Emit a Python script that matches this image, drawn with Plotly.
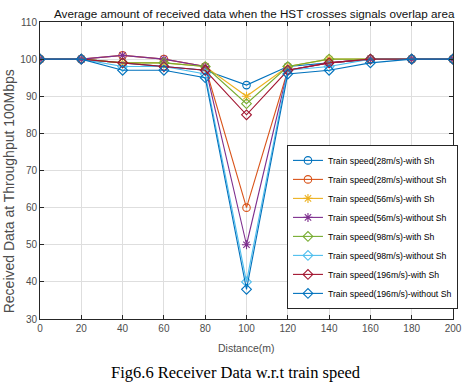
import plotly.graph_objects as go

distance = [0, 20, 40, 60, 80, 100, 120, 140, 160, 180, 200]

s28_with = [100, 100, 99, 98, 97, 93, 98, 99, 100, 100, 100]
s28_without = [100, 100, 101, 100, 98, 60, 97, 99, 100, 100, 100]
s56_with = [100, 100, 99, 99, 98, 90, 98, 100, 100, 100, 100]
s56_without = [100, 100, 101, 100, 98, 50, 97, 99, 100, 100, 100]
s98_with = [100, 100, 99, 99, 98, 88, 98, 100, 100, 100, 100]
s98_without = [100, 100, 98, 98, 96, 40, 97, 98, 100, 100, 100]
s196_with = [100, 100, 99, 98, 97, 85, 97, 99, 100, 100, 100]
s196_without = [100, 100, 97, 97, 95, 38, 96, 97, 99, 100, 100]

names = [
    "Train speed(28m/s)-with Sh",
    "Train speed(28m/s)-without Sh",
    "Train speed(56m/s)-with Sh",
    "Train speed(56m/s)-without Sh",
    "Train speed(98m/s)-with Sh",
    "Train speed(98m/s)-without Sh",
    "Train speed(196m/s)-with Sh",
    "Train speed(196m/s)-without Sh",
]
series = [s28_with, s28_without, s56_with, s56_without,
          s98_with, s98_without, s196_with, s196_without]
colors = ["#0072BD", "#D95319", "#EDB120", "#7E2F8E",
          "#77AC30", "#4DBEEE", "#A2142F", "#0072BD"]
symbols = ["circle-open", "circle-open", "asterisk-open", "asterisk-open",
           "diamond-open", "diamond-open", "diamond-open", "diamond-open"]

fig = go.Figure()
for name, ys, c, sym in zip(names, series, colors, symbols):
    fig.add_trace(go.Scatter(
        x=distance, y=ys, name=name, mode="lines+markers",
        line=dict(color=c, width=1.1),
        marker=dict(symbol=sym, size=7.5, color=c, line=dict(color=c, width=1.1)),
    ))

axis_common = dict(
    showline=True, linecolor="#262626", linewidth=1, mirror="ticks",
    ticks="inside", ticklen=4, tickcolor="#262626",
    showgrid=True, gridcolor="#dedede", gridwidth=1, zeroline=False,
    tickfont=dict(family="Liberation Sans, Arial", size=10, color="#4d4d4d"),
)

fig.update_xaxes(range=[0, 200], tickvals=distance, automargin=False, **axis_common)
fig.update_yaxes(range=[30, 110], tickvals=list(range(30, 111, 10)), automargin=False, **axis_common)

fig.update_layout(
    width=468, height=388,
    margin=dict(l=40, r=15, t=22, b=69, autoexpand=False),
    paper_bgcolor="white", plot_bgcolor="white",
    showlegend=True,
    legend=dict(
        x=0.598, y=0.034, xanchor="left", yanchor="bottom",
        bgcolor="white", bordercolor="#262626", borderwidth=1,
        font=dict(family="Liberation Sans, Arial", size=8.7, color="#000000"),
        itemwidth=30, tracegroupgap=0,
    ),
    annotations=[
        dict(text="Average amount of received data when the HST crosses signals overlap area",
             xref="paper", yref="paper", x=0.519, y=1.0, yshift=9, showarrow=False,
             xanchor="center", yanchor="middle",
             font=dict(family="Liberation Sans, Arial", size=11.7, color="#111111")),
        dict(text="Distance(m)", xref="paper", yref="paper", x=0.5, y=0, yshift=-29,
             showarrow=False, xanchor="center", yanchor="middle",
             font=dict(family="Liberation Sans, Arial", size=10.5, color="#4d4d4d")),
        dict(text="Received Data at Throughput 100Mbps", xref="paper", yref="paper",
             x=0, xshift=-31, y=0.43, textangle=-90, showarrow=False,
             xanchor="center", yanchor="middle",
             font=dict(family="Liberation Sans, Arial", size=14, color="#4d4d4d")),
        dict(text="Fig6.6 Receiver Data w.r.t train speed", xref="paper", yref="paper",
             x=0.475, y=0, yshift=-53, showarrow=False, xanchor="center", yanchor="middle",
             font=dict(family="Liberation Serif, Times New Roman", size=16.5, color="#000000")),
    ],
)

fig.write_html("out.html", config={"displayModeBar": False},
               post_script="document.body.style.margin='0';document.body.style.overflow='hidden';")
